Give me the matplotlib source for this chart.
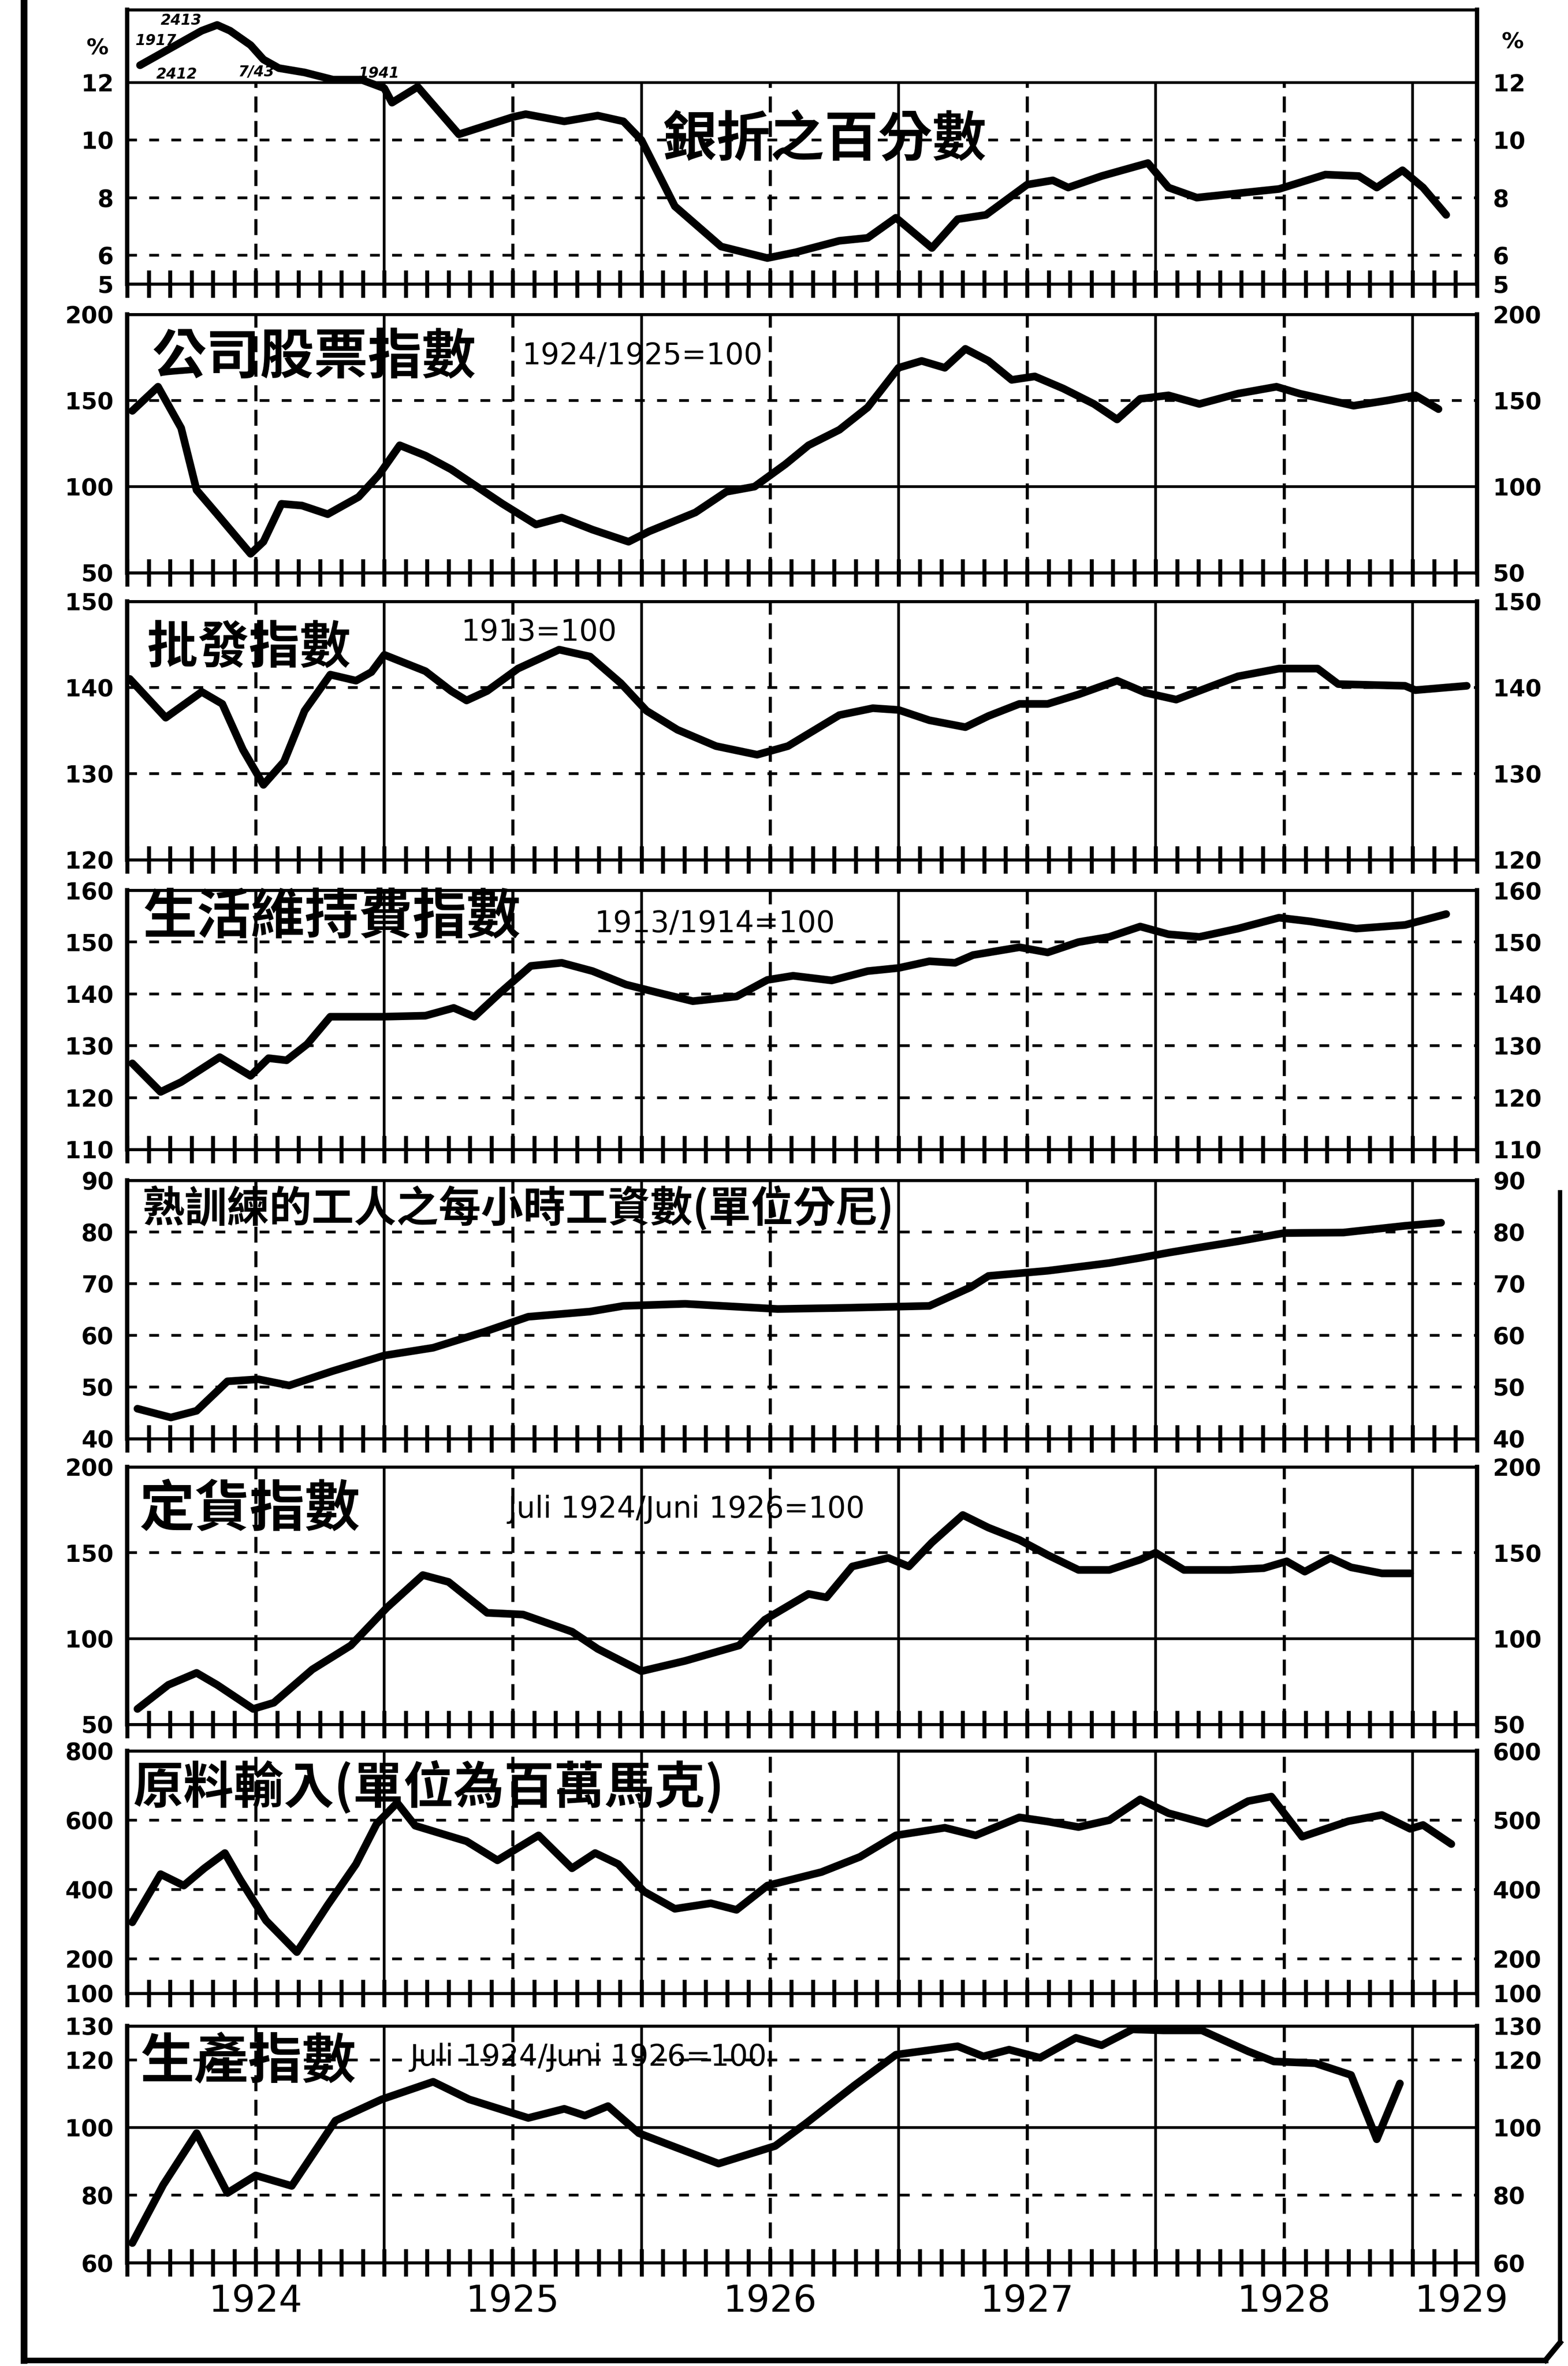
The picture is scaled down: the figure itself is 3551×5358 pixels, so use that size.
import matplotlib
matplotlib.use('Agg')
import matplotlib.pyplot as plt
from matplotlib.lines import Line2D

plt.rcParams['font.family'] = ['DejaVu Sans', 'Noto Sans CJK TC']
plt.rcParams['lines.scale_dashes'] = False

W, H, DPI = 3551, 5358, 100

# ---------------- data ----------------
disc_x = [1924.05, 1924.17, 1924.29, 1924.35, 1924.40, 1924.48, 1924.53, 1924.59, 1924.69, 1924.80,
          1924.91, 1925.00, 1925.03, 1925.13, 1925.29, 1925.50, 1925.55, 1925.70, 1925.83, 1925.93,
          1926.00, 1926.13, 1926.31, 1926.49, 1926.60, 1926.77, 1926.88, 1926.99, 1927.13, 1927.23,
          1927.34, 1927.50, 1927.60, 1927.66, 1927.79, 1927.97, 1928.05, 1928.16, 1928.32, 1928.48,
          1928.66, 1928.79, 1928.86, 1928.96, 1929.04, 1929.13]
disc_y = [12.6, 13.2, 13.8, 14.0, 13.8, 13.3, 12.8, 12.5, 12.35, 12.1,
          12.1, 11.8, 11.3, 11.85, 10.2, 10.8, 10.9, 10.65, 10.85, 10.65,
          10.0, 7.7, 6.3, 5.9, 6.1, 6.5, 6.6, 7.3, 6.25, 7.25,
          7.4, 8.45, 8.6, 8.35, 8.75, 9.2, 8.35, 8.0, 8.15, 8.3,
          8.8, 8.75, 8.35, 8.95, 8.35, 7.4]

stock_x = [1924.02, 1924.12, 1924.21, 1924.27, 1924.35, 1924.48, 1924.53, 1924.60, 1924.68, 1924.78,
           1924.90, 1924.98, 1925.06, 1925.16, 1925.26, 1925.36, 1925.46, 1925.59, 1925.69, 1925.81,
           1925.95, 1926.03, 1926.21, 1926.33, 1926.44, 1926.56, 1926.65, 1926.77, 1926.88, 1927.00,
           1927.09, 1927.18, 1927.26, 1927.35, 1927.44, 1927.53, 1927.64, 1927.76, 1927.85, 1927.94,
           1928.05, 1928.17, 1928.32, 1928.47, 1928.56, 1928.65, 1928.77, 1928.90, 1929.01, 1929.10]
stock_y = [144, 158, 134, 98, 84, 61, 68, 90, 89, 84,
           94, 107, 124, 118, 110, 100, 90, 78, 82, 75,
           68, 74, 85, 97, 100, 113, 124, 133, 146, 169,
           173, 169, 180, 173, 162, 164, 157, 148, 139, 151,
           153, 148, 154, 158, 154, 151, 147, 150, 153, 145]

whole_x = [1924.01, 1924.15, 1924.29, 1924.37, 1924.45, 1924.53, 1924.61, 1924.69, 1924.79, 1924.89,
           1924.95, 1925.00, 1925.16, 1925.26, 1925.32, 1925.40, 1925.52, 1925.68, 1925.80, 1925.92,
           1926.02, 1926.14, 1926.29, 1926.45, 1926.57, 1926.77, 1926.90, 1927.00, 1927.12, 1927.26,
           1927.35, 1927.47, 1927.58, 1927.70, 1927.85, 1927.96, 1928.08, 1928.23, 1928.32, 1928.48,
           1928.63, 1928.71, 1928.97, 1929.01, 1929.21]
whole_y = [141.0, 136.5, 139.5, 138.1, 132.8, 128.7, 131.4, 137.3, 141.5, 140.8,
           141.8, 143.8, 141.9, 139.6, 138.5, 139.6, 142.2, 144.4, 143.6, 140.5,
           137.3, 135.1, 133.2, 132.2, 133.2, 136.8, 137.6, 137.4, 136.2, 135.4,
           136.7, 138.1, 138.1, 139.2, 140.8, 139.4, 138.6, 140.3, 141.3, 142.2,
           142.2, 140.4, 140.2, 139.7, 140.2]

living_x = [1924.02, 1924.13, 1924.21, 1924.36, 1924.48, 1924.55, 1924.62, 1924.70, 1924.79, 1924.99,
            1925.16, 1925.27, 1925.35, 1925.45, 1925.57, 1925.69, 1925.81, 1925.94, 1926.06, 1926.20,
            1926.37, 1926.49, 1926.59, 1926.74, 1926.88, 1927.00, 1927.12, 1927.22, 1927.29, 1927.47,
            1927.58, 1927.70, 1927.82, 1927.94, 1928.05, 1928.17, 1928.32, 1928.48, 1928.60, 1928.78,
            1928.97, 1929.13]
living_y = [126.6, 121.1, 123.0, 127.8, 124.2, 127.6, 127.2, 130.3, 135.6, 135.6,
            135.8, 137.3, 135.6, 140.2, 145.4, 146.0, 144.4, 141.8, 140.3, 138.6,
            139.5, 142.7, 143.5, 142.6, 144.4, 145.0, 146.3, 146.0, 147.5, 149.0,
            148.0, 150.0, 151.0, 153.0, 151.5, 151.0, 152.6, 154.7, 154.0, 152.6,
            153.3, 155.4]

wage_x = [1924.04, 1924.17, 1924.27, 1924.39, 1924.51, 1924.63, 1924.80, 1925.00, 1925.19, 1925.39,
          1925.56, 1925.80, 1925.93, 1926.17, 1926.53, 1926.77, 1927.12, 1927.28, 1927.35, 1927.58,
          1927.82, 1927.94, 1928.05, 1928.17, 1928.32, 1928.50, 1928.73, 1928.97, 1929.11]
wage_y = [45.8, 44.1, 45.4, 51.1, 51.5, 50.3, 53.1, 56.1, 57.6, 60.7,
          63.6, 64.6, 65.7, 66.1, 65.1, 65.3, 65.7, 69.3, 71.5, 72.5,
          74.0, 75.0, 76.0, 77.0, 78.2, 79.8, 79.9, 81.2, 81.8]

order_x = [1924.04, 1924.16, 1924.27, 1924.35, 1924.49, 1924.57, 1924.72, 1924.87, 1925.01, 1925.15,
           1925.25, 1925.40, 1925.54, 1925.73, 1925.83, 1926.00, 1926.17, 1926.38, 1926.48, 1926.65,
           1926.72, 1926.82, 1926.96, 1927.04, 1927.13, 1927.25, 1927.35, 1927.47, 1927.58, 1927.70,
           1927.82, 1927.94, 1928.00, 1928.11, 1928.29, 1928.42, 1928.51, 1928.58, 1928.68, 1928.76,
           1928.88, 1928.99]
order_y = [59, 73, 80, 73, 59, 62.6, 82, 96, 118, 137,
           133, 115, 114, 104, 94, 81, 87, 96, 111, 126,
           124, 142, 147, 142, 156, 172, 164.6, 157.5, 148.7, 140,
           140, 146, 150, 140, 140, 141, 145, 139, 147, 141.5,
           138, 138]

raw_x = [1924.02, 1924.13, 1924.22, 1924.30, 1924.38, 1924.44, 1924.54, 1924.66, 1924.78, 1924.89,
         1924.97, 1925.05, 1925.12, 1925.32, 1925.44, 1925.60, 1925.73, 1925.82, 1925.91, 1926.01,
         1926.13, 1926.27, 1926.37, 1926.49, 1926.70, 1926.85, 1926.99, 1927.18, 1927.30, 1927.47,
         1927.58, 1927.70, 1927.82, 1927.94, 1928.05, 1928.20, 1928.36, 1928.45, 1928.57, 1928.75,
         1928.88, 1928.99, 1929.04, 1929.15]
raw_y = [305, 444, 411, 461, 505, 428, 310, 219, 355, 473,
         589, 650, 584, 539, 484, 556, 461, 505, 473, 394,
         344, 360, 341, 411, 450, 494, 556, 578, 556, 608,
         596, 580, 600, 660, 620, 590, 655, 668, 552, 597,
         615, 575, 586, 531]

prod_x = [1924.02, 1924.14, 1924.27, 1924.39, 1924.50, 1924.64, 1924.81, 1924.99, 1925.19, 1925.33,
          1925.56, 1925.70, 1925.78, 1925.87, 1925.99, 1926.11, 1926.30, 1926.52, 1926.64, 1926.83,
          1926.99, 1927.23, 1927.33, 1927.43, 1927.55, 1927.69, 1927.79, 1927.91, 1928.03, 1928.18,
          1928.36, 1928.46, 1928.62, 1928.76, 1928.86, 1928.95]
prod_y = [65.8, 83, 98.3, 80.6, 85.8, 82.7, 102, 108.3, 113.5, 108.3,
          102.8, 105.5, 103.5, 106.3, 98.3, 94.8, 89.3, 94.5, 101.2, 112.5,
          121.5, 124, 121, 123, 120.6, 126.5, 124.3, 129, 128.7, 128.7,
          122.5, 119.5, 119, 115.5, 96.5, 113]

titles = ['銀折之百分數', '公司股票指數', '批發指數', '生活維持費指數',
          '熟訓練的工人之每小時工資數(單位分尼)', '定貨指數', '原料輸入(單位為百萬馬克)', '生產指數']
subtitles = ['', '1924/1925=100', '1913=100', '1913/1914=100', '', 'Juli 1924/Juni 1926=100', '',
             'Juli 1924/Juni 1926=100']

yticks_l = [[5, 6, 8, 10, 12], [50, 100, 150, 200], [120, 130, 140, 150], [110, 120, 130, 140, 150, 160],
            [40, 50, 60, 70, 80, 90], [50, 100, 150, 200], [100, 200, 400, 600, 800], [60, 80, 100, 120, 130]]
ylabels_r = [['5', '6', '8', '10', '12'], ['50', '100', '150', '200'], ['120', '130', '140', '150'],
             ['110', '120', '130', '140', '150', '160'], ['40', '50', '60', '70', '80', '90'],
             ['50', '100', '150', '200'], ['100', '200', '400', '500', '600'], ['60', '80', '100', '120', '130']]
ylims = [(5, 14.53), (50, 200), (120, 150), (110, 160), (40, 90), (50, 200), (100, 800), (60, 130)]
solid_h = [[12], [100], [], [], [], [100], [], [100]]
dashed_h = [[6, 8, 10], [150], [130, 140], [120, 130, 140, 150], [50, 60, 70, 80], [150],
            [200, 400, 600], [80, 120]]

year_lines = [1925, 1926, 1927, 1928, 1929]
half_lines = [1924.5, 1925.5, 1926.5, 1927.5, 1928.5]
year_label_x = [1924.5, 1925.5, 1926.5, 1927.5, 1928.5, 1929.19]
year_labels = ['1924', '1925', '1926', '1927', '1928', '1929']
months = [1924 + k / 12 for k in range(64)]

series_x = [disc_x, stock_x, whole_x, living_x, wage_x, order_x, raw_x, prod_x]
series_y = [disc_y, stock_y, whole_y, living_y, wage_y, order_y, raw_y, prod_y]

# ---------------- layout (pixels) ----------------
tops = [22, 712, 1362, 2016, 2673, 3322, 3965, 4588]
bots = [643, 1297, 1947, 2603, 3258, 3905, 4514, 5124]
AX_L, AX_R = 288, 3345
title_pos = [(1500, 317, 88), (344, 810, 88), (333, 1468, 83), (323, 2078, 88),
             (323, 2738, 69), (316, 3420, 90), (302, 4048, 82), (317, 4670, 88)]
sub_pos = [None, (1183, 806), (1045, 1432), (1347, 2092), None, (1150, 3418), None, (928, 4659)]

CJK = ['Noto Sans CJK TC', 'DejaVu Sans']


def fx(px):
    return px / W


def fy(py):
    return 1 - py / H


fig = plt.figure(figsize=(W / DPI, H / DPI), dpi=DPI)
fig.patch.set_facecolor('white')

axes = []
for i in range(8):
    ax = fig.add_axes([fx(AX_L), fy(bots[i]), (AX_R - AX_L) / W, (bots[i] - tops[i]) / H])
    axes.append(ax)
    ax.set_xlim(1924.0, 1929.25)
    ax.set_ylim(*ylims[i])
    lo, hi = ylims[i]
    vtop = 12 if i == 0 else hi
    for xv in year_lines:
        ax.vlines(xv, lo, vtop, colors='black', linewidth=4.5, zorder=2)
    for xv in half_lines:
        ax.vlines(xv, lo, vtop, colors='black', linewidth=5, linestyles=(0, (26, 14)), zorder=2)
    for yv in solid_h[i]:
        ax.axhline(yv, color='black', linewidth=4.5, zorder=2)
    for yv in dashed_h[i]:
        ax.axhline(yv, color='black', linewidth=4.5, linestyle=(0, (16, 20)), zorder=2)

    ax.plot(series_x[i], series_y[i], color='black', linewidth=12.5,
            solid_joinstyle='round', solid_capstyle='round', zorder=4)

    ax.set_xticks(months)
    ax.set_xticklabels([])
    ax.tick_params(axis='x', direction='inout', length=44, width=6.5, color='black')
    ax.set_yticks(yticks_l[i])
    ax.set_yticklabels([str(v) for v in yticks_l[i]], fontsize=38, fontweight='bold')
    ax.tick_params(axis='y', length=0, pad=22)
    for s in ['top', 'bottom']:
        ax.spines[s].set_linewidth(5)
    for s in ['left', 'right']:
        ax.spines[s].set_linewidth(7)

    ax2 = ax.twinx()
    ax2.set_ylim(*ylims[i])
    ax2.set_yticks(yticks_l[i])
    ax2.set_yticklabels(ylabels_r[i], fontsize=38, fontweight='bold')
    ax2.tick_params(axis='y', length=0, pad=26)
    for s in ax2.spines.values():
        s.set_visible(False)

    tx, ty, ts = title_pos[i]
    fig.text(fx(tx), fy(ty), titles[i], fontsize=ts, fontweight='bold', family=CJK,
             ha='left', va='center', zorder=6)
    if sub_pos[i] is not None:
        sx, sy = sub_pos[i]
        fig.text(fx(sx), fy(sy), subtitles[i], fontsize=48, ha='left', va='center', zorder=6)

# percent signs for the first panel
fig.text(fx(245), fy(110), '%', fontsize=36, fontweight='bold', ha='right', va='center')
fig.text(fx(3400), fy(95), '%', fontsize=36, fontweight='bold', ha='left', va='center')

# small handwritten notes in the first panel
notes = ['2413', '1917', '2412', '7/43', '1941']
note_pos = [(410, 47), (353, 92), (400, 168), (580, 163), (858, 167)]
for t, (nx, ny) in zip(notes, note_pos):
    fig.text(fx(nx), fy(ny), t, fontsize=24, fontweight='bold', style='italic',
             ha='center', va='center')

# year labels under the last panel
ax8 = axes[-1]
yl = -(5211 - 5124) / (5124 - 4588)
for xv, lab in zip(year_label_x, year_labels):
    ax8.text(xv, yl, lab, transform=ax8.get_xaxis_transform(), fontsize=60,
             ha='center', va='center', clip_on=False)

# outer frame
frame = [
    Line2D([fx(54), fx(54)], [fy(0), fy(5345)], color='black', linewidth=11),
    Line2D([fx(54), fx(3500)], [fy(5345), fy(5345)], color='black', linewidth=9),
    Line2D([fx(3500), fx(3533)], [fy(5345), fy(5305)], color='black', linewidth=9),
    Line2D([fx(3533), fx(3533)], [fy(5305), fy(2700)], color='black', linewidth=7),
]
for ln in frame:
    fig.add_artist(ln)

fig.savefig('out.png', dpi=DPI, facecolor='white')
